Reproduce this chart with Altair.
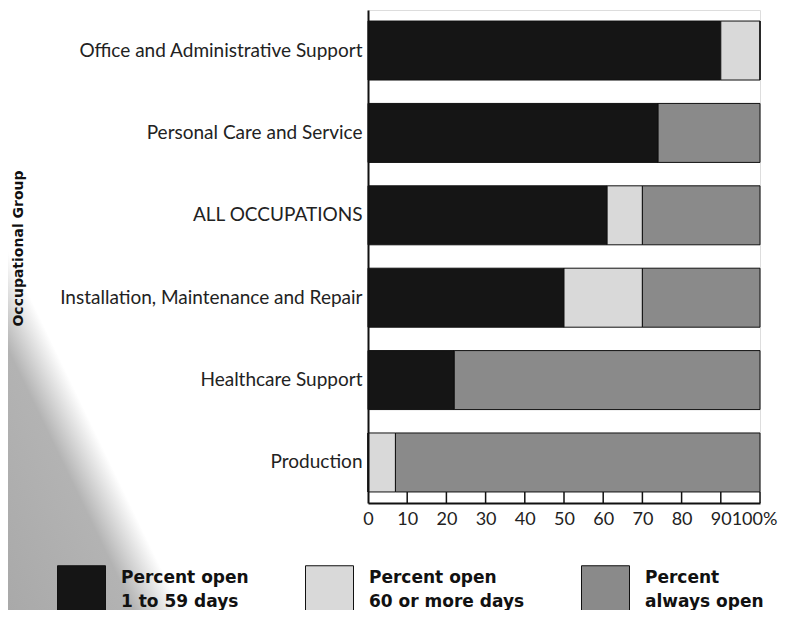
import altair as alt
import pandas as pd

groups = ["Office and Administrative Support", "Personal Care and Service", "ALL OCCUPATIONS",
          "Installation, Maintenance and Repair", "Healthcare Support", "Production"]
open_1_59 = [90, 74, 61, 50, 22, 0]
open_60_plus = [10, 0, 9, 20, 0, 7]
always_open = [0, 26, 30, 30, 78, 93]
series = ["Percent open 1 to 59 days", "Percent open 60 or more days", "Percent always open"]
colors = ["#151515", "#d9d9d9", "#8a8a8a"]
ticks = [10, 20, 30, 40, 50, 60, 70, 80, 90, 100]

rows = []
for i, g in enumerate(groups):
    for j, (s, vals) in enumerate(zip(series, [open_1_59, open_60_plus, always_open])):
        rows.append({"group": g, "series": s, "value": vals[i], "order": j})
df = pd.DataFrame(rows)
tick_df = pd.DataFrame({"t": ticks})

FONT = "Lato"
BOLD = "DejaVu Sans"

label_expr = ("datum.label == 'Percent open 1 to 59 days' ? ['Percent open','1 to 59 days'] : "
              "datum.label == 'Percent open 60 or more days' ? ['Percent open','60 or more days'] : "
              "['Percent','always open']")

x_scale = alt.Scale(domain=[0, 100], nice=False)
x_axis = alt.Axis(title=None, values=[0] + ticks, ticks=False,
                  labelExpr="datum.value == 100 ? '100%' : datum.label",
                  labelFont=FONT, labelFontSize=18, labelColor="#222",
                  labelOffset={"condition": {"test": "datum.value == 100", "value": -6}, "value": 0},
                  labelPadding=7, domainColor="#111", domainWidth=2, grid=False,
                  labelFlush=False, labelOverlap=False, zindex=1)

# decorative halftone shadow in the lower-left corner
shadow = alt.Chart(pd.DataFrame({"a": [0]})).mark_rect(
    fill=alt.Gradient(gradient="linear", x1=0, y1=1, x2=0.859, y2=0.488,
                      stops=[alt.GradientStop(color="#a9a9a9", offset=0),
                             alt.GradientStop(color="#b3b3b3", offset=0.37),
                             alt.GradientStop(color="#d9d9d9", offset=0.44),
                             alt.GradientStop(color="#ffffff", offset=0.51)]),
    strokeWidth=0,
).encode(x=alt.value(-360), x2=alt.value(-68), y=alt.value(240), y2=alt.value(600))

bars = alt.Chart(df).mark_bar(stroke="#111111", strokeWidth=1).encode(
    y=alt.Y("group:N", sort=groups,
            scale=alt.Scale(paddingInner=0.284, paddingOuter=0.134),
            axis=alt.Axis(title="Occupational Group", titleFont=BOLD, titleFontSize=14,
                          titleFontWeight="bold", titleColor="#111", titleAngle=270,
                          titleX=-350, titleY=238, titleAlign="center", titleBaseline="middle",
                          labelFont=FONT, labelFontSize=19, labelColor="#222",
                          labelPadding=6, ticks=False, domainColor="#111", domainWidth=2,
                          labelLimit=0, zindex=1)),
    x=alt.X("value:Q", stack="zero", scale=x_scale, axis=x_axis),
    color=alt.Color("series:N", sort=series,
                    scale=alt.Scale(domain=series, range=colors),
                    legend=alt.Legend(title=None, orient="none", legendX=-311, legendY=555,
                                      direction="horizontal", columns=3, columnPadding=54,
                                      symbolType="square", symbolSize=2304,
                                      symbolStrokeColor="#111", symbolStrokeWidth=1,
                                      symbolOpacity=1,
                                      labelFont=BOLD, labelFontSize=17, labelFontWeight="bold",
                                      labelColor="#111", labelOffset=15, labelLimit=0,
                                      labelExpr=label_expr, labelBaseline="line-bottom")),
    order=alt.Order("order:Q"),
)

tick_rules = alt.Chart(tick_df).mark_rule(color="#111", strokeWidth=1.5).encode(
    x=alt.X("t:Q", scale=x_scale, axis=x_axis),
    y=alt.value(482),
    y2=alt.value(493),
)

chart = alt.layer(shadow, bars, tick_rules).properties(
    width=392, height=493,
    autosize=alt.AutoSizeParams(type="none"),
    padding={"left": 360, "top": 2, "right": 18, "bottom": 107},
).configure_view(stroke=None).configure(
    background="white",
    style={"guide-label": {"lineHeight": 24}},
)

chart.save("out.html", embed_options={"renderer": "svg", "actions": False})
